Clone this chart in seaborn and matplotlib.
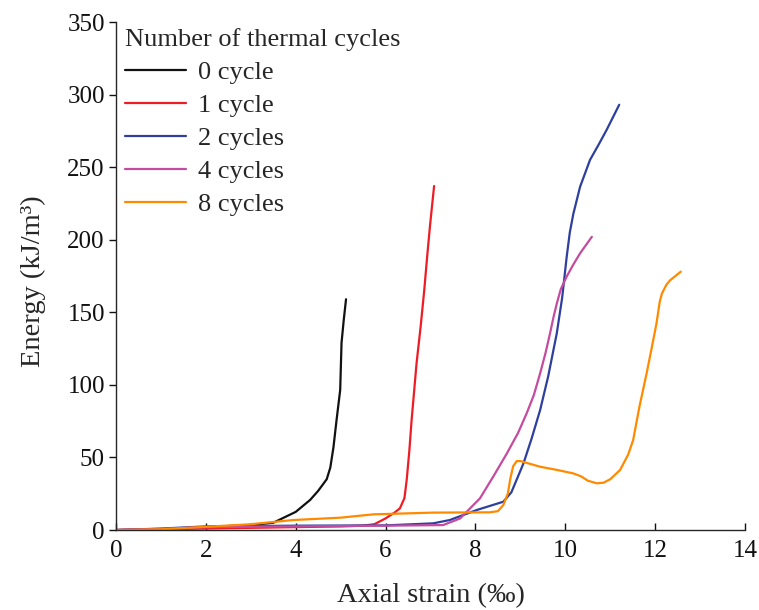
import numpy as np
import pandas as pd
import matplotlib
matplotlib.use("Agg")
import matplotlib.pyplot as plt
import seaborn as sns

# Energy vs axial strain for rock specimens after thermal cycling
strain_0 = [0, 1.0, 2.0, 3.0, 3.5, 3.7, 4.0, 4.32, 4.5, 4.69, 4.77, 4.84, 4.91, 4.99, 5.02, 5.07, 5.12]
energy_0 = [0, 0.5, 2.0, 3.5, 5.0, 8.0, 12.5, 20.7, 27, 35, 43, 57, 76, 96.5, 129, 145, 159]

strain_1 = [0, 1.0, 2.0, 3.0, 4.0, 5.0, 5.5, 5.75, 6.0, 6.2, 6.32, 6.42, 6.47, 6.53, 6.58, 6.69, 6.78, 6.86, 6.93, 6.99, 7.04, 7.08]
energy_1 = [0, 0.5, 1.0, 1.5, 2.0, 2.5, 3.0, 4.0, 8.0, 12, 15, 22, 34.5, 55, 76, 115, 140, 165, 190, 210, 225, 237]

strain_2 = [0, 1.0, 2.0, 4.0, 6.0, 7.06, 7.43, 8.03, 8.62, 8.8, 9.07, 9.25, 9.44, 9.62, 9.81, 9.93, 10.03, 10.1, 10.18, 10.33, 10.55, 10.75, 10.92, 11.2]
energy_2 = [0, 1.0, 2.5, 3.0, 3.2, 4.6, 6.9, 13.8, 19.5, 26, 46, 63, 82.7, 106, 135.5, 160, 188, 205, 218, 236.6, 255, 266, 275.7, 293]

strain_4 = [0, 1.0, 2.0, 4.0, 6.0, 7.28, 7.66, 8.1, 8.4, 8.7, 8.95, 9.14, 9.3, 9.44, 9.56, 9.66, 9.74, 9.81, 9.9, 10.03, 10.18, 10.33, 10.59]
energy_4 = [0, 0.8, 2.0, 2.5, 3.0, 3.4, 8.0, 21.8, 37, 52.8, 67, 80.4, 93, 108, 122, 135.5, 147, 156, 166, 174.6, 183, 190.7, 202]

strain_8 = [0, 1.0, 1.87, 3.0, 3.95, 4.99, 5.73, 7.06, 8.32, 8.5, 8.62, 8.72, 8.78, 8.84, 8.92, 9.0, 9.44, 9.8, 10.18, 10.35, 10.5, 10.7, 10.85, 11.0, 11.22, 11.4, 11.51, 11.65, 11.81, 11.92, 12.03, 12.1, 12.15, 12.25, 12.33, 12.57]
energy_8 = [0, 0.5, 2.0, 4.0, 6.9, 8.5, 10.8, 12.0, 12.2, 13, 17.2, 25, 36, 44, 47.5, 47.5, 43.6, 41.5, 39, 37, 34, 32.2, 32.6, 35, 41.4, 52, 62, 85, 108, 125, 142.5, 157, 163, 169, 172, 178]

series_labels = ["0 cycle", "1 cycle", "2 cycles", "4 cycles", "8 cycles"]
series_colors = ["#111111", "#ee1c25", "#2e3f9e", "#c54b9f", "#ff8a00"]

frames = []
for lab, xs, ys in zip(series_labels,
                       [strain_0, strain_1, strain_2, strain_4, strain_8],
                       [energy_0, energy_1, energy_2, energy_4, energy_8]):
    frames.append(pd.DataFrame({"strain": xs, "energy": ys, "cycles": lab}))
df = pd.concat(frames, ignore_index=True)

sns.set_style("ticks")
plt.rcParams["font.family"] = ["Liberation Serif", "DejaVu Serif"]

fig = plt.figure(figsize=(7.59, 6.10), dpi=100)
ax = fig.add_axes([0.1528, 0.1311, 0.8288, 0.8328])

sns.lineplot(data=df, x="strain", y="energy", hue="cycles",
             hue_order=series_labels, palette=series_colors,
             sort=False, estimator=None, linewidth=1.6, ax=ax)

ax.set_xlim(0, 14)
ax.set_ylim(0, 350)
ax.set_xticks(np.arange(0, 15, 2))
ax.set_yticks(np.arange(0, 351, 50))
sns.despine(ax=ax)
ax.spines["left"].set_linewidth(1.0)
ax.spines["bottom"].set_linewidth(1.0)
ax.tick_params(axis="x", direction="in", length=5, width=1.0, labelsize=18, pad=7, colors="#111111")
ax.tick_params(axis="y", direction="out", length=5, width=1.0, labelsize=18, pad=3, colors="#111111")

ax.set_xlabel("Axial strain (‰)", fontsize=20.5)
ax.xaxis.set_label_coords(0.5, -0.105)
ax.set_ylabel("Energy (kJ/m³)", fontsize=20.5)
ax.yaxis.set_label_coords(-0.111, 0.49)

leg = ax.legend(title="Number of thermal cycles", loc="upper left",
                bbox_to_anchor=(0.008, 0.996), frameon=False, fontsize=19,
                title_fontsize=19, handlelength=2.3, handletextpad=0.45,
                labelspacing=0.36, borderaxespad=0.05, borderpad=0.1)
leg._legend_box.align = "left"

fig.savefig("out.png", dpi=100, facecolor="white")
